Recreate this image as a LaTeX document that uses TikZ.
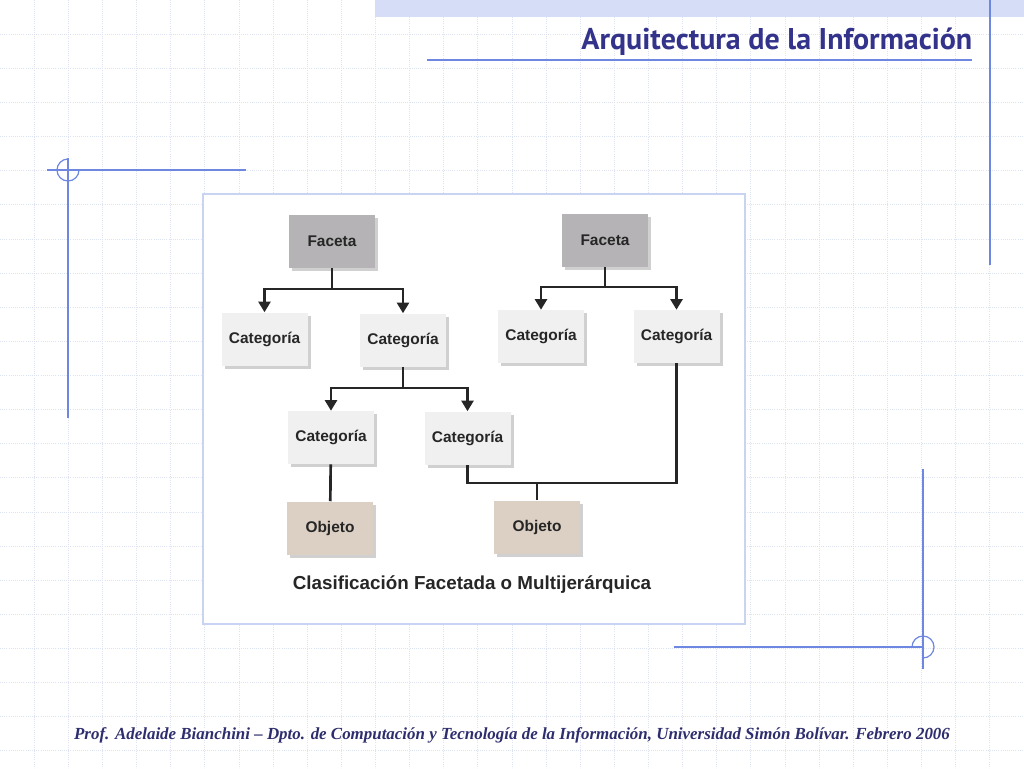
\documentclass[tikz,border=0pt]{standalone}
\usepackage{fontspec}
\usepackage{xcolor}
\definecolor{colorGrid}{RGB}{222,227,243}
\definecolor{colorBand}{RGB}{214,221,246}
\definecolor{colorDeco}{RGB}{110,135,225}
\definecolor{colorFrame}{RGB}{200,212,242}
\definecolor{colorTitle}{RGB}{51,51,140}
\definecolor{colorFoot}{RGB}{46,46,110}
\definecolor{colorFaceta}{RGB}{181,179,181}
\definecolor{colorCategoria}{RGB}{240,240,240}
\definecolor{colorObjeto}{RGB}{220,208,196}
\definecolor{colorShadow}{RGB}{208,208,208}
\newfontfamily\titlefont{PT Sans}
\newfontfamily\boxfont{Liberation Sans}
\newfontfamily\footfont{Liberation Serif}
\usetikzlibrary{arrows.meta, positioning, shadows}
\tikzset{
  box/.style={minimum width=64.5pt, minimum height=39.75pt, inner sep=0pt,
    font=\boxfont\bfseries\fontsize{11.6}{14}\selectfont, text=black!85,
    drop shadow={shadow xshift=2.5pt, shadow yshift=-2.5pt, fill=colorShadow, opacity=1}},
  faceta/.style={box, fill=colorFaceta},
  categoria/.style={box, fill=colorCategoria},
  objeto/.style={box, fill=colorObjeto},
  link/.style={line width=2pt, black!85},
  arrow/.style={link, -{Triangle[width=9pt, length=8pt]}},
  deco/.style={colorDeco, line width=0.9pt}
}

\begin{document}
\begin{tikzpicture}[x=0.75pt, y=-0.75pt]
\useasboundingbox (0,0) rectangle (1024,768);
% background grid
\fill[white] (0,0) rectangle (1024,768);
\foreach \k in {1,...,29}
  \draw[colorGrid, line width=0.6pt, densely dotted] (\k*34.13,0) -- (\k*34.13,768);
\foreach \k in {1,...,22}
  \draw[colorGrid, line width=0.6pt, densely dotted] (0,\k*34.13) -- (1024,\k*34.13);
\fill[colorBand] (375,0) rectangle (1024,17);
% title
\node[anchor=base east, text=colorTitle, font=\titlefont\bfseries\fontsize{22.5}{26}\selectfont] (title) at (977,49) {Arquitectura de la Información};
\draw[deco] (427,60) -- (972,60);
\draw[deco] (990,0) -- (990,265);
% corner marks
\draw[deco] (47,170) -- (246,170);
\draw[deco] (68,158) -- (68,418);
\draw[deco] (79,170) arc[start angle=0, end angle=270, radius=11];
\draw[deco] (674,647) -- (923,647);
\draw[deco] (923,469) -- (923,669);
\draw[deco] (912,647) arc[start angle=180, end angle=450, radius=11];
% frame
\draw[colorFrame, line width=2.2pt, fill=white] (203,194) rectangle (745,624);

\node[faceta] (f1) at (332,241.5) {Faceta};
\node[faceta] (f2) at (605,240.5) {Faceta};
\node[categoria] (c1) at (264.5,339) {Categoría};
\node[categoria] (c2) at (403,340) {Categoría};
\node[categoria] (c3) at (541,336.5) {Categoría};
\node[categoria] (c4) at (676.5,336.5) {Categoría};
\node[categoria] (c5) at (331,437.5) {Categoría};
\node[categoria] (c6) at (467.5,438) {Categoría};
\node[objeto] (o1) at (330,528) {Objeto};
\node[objeto] (o2) at (537,527) {Objeto};

\coordinate (j1) at (332,289);
\coordinate (j2) at (605,287);
\coordinate (j3) at (403,388);
\coordinate (j4) at (537,483);

\draw[link] (f1) -- (j1);
\draw[arrow] (j1) -| (c1);
\draw[arrow] (j1) -| (c2);
\draw[link] (f2) -- (j2);
\draw[arrow] (j2) -| (c3);
\draw[arrow] (j2) -| (c4);
\draw[link] (c2) -- (j3);
\draw[arrow] (j3) -| (c5);
\draw[arrow] (j3) -| (c6);
\draw[link] (c5) -- (o1);
\draw[link] (c6) |- (j4) -| (c4);
\draw[link] (o2) -- (j4);

\node[font=\boxfont\bfseries\fontsize{14.1}{17}\selectfont, text=black!85] (caption) at (472,585) {Clasificación Facetada o Multijerárquica};
% footer
\node[anchor=base, text=colorFoot, font=\footfont\bfseries\itshape\fontsize{12.7}{15}\selectfont] (footer) at (512,739) {Prof. Adelaide Bianchini – Dpto. de Computación y Tecnología de la Información, Universidad Simón Bolívar. Febrero 2006};
\end{tikzpicture}
\end{document}
